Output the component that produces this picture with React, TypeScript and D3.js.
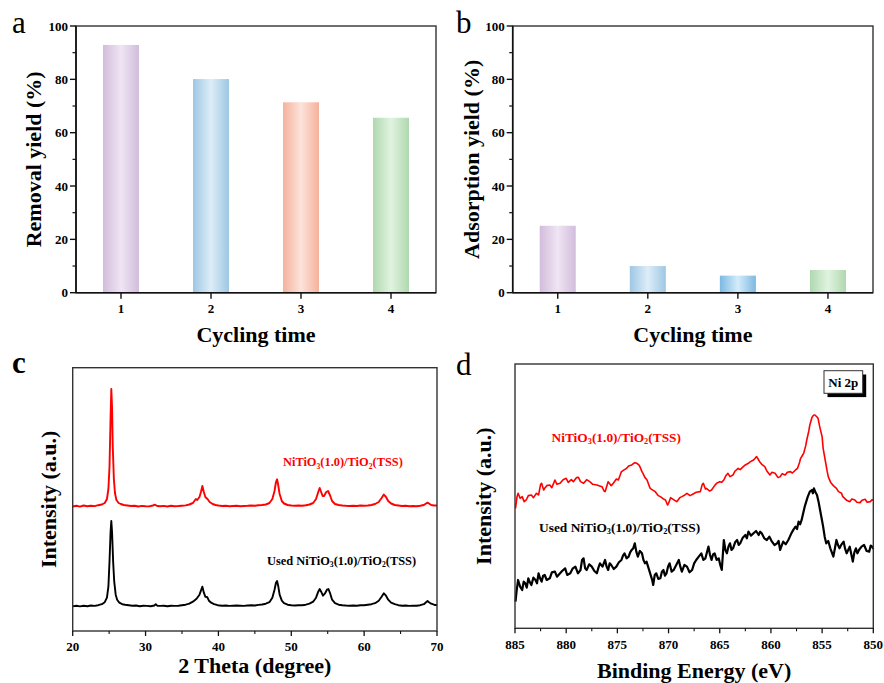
import React from 'react';
import * as d3 from 'd3';

// ---------- DATA ----------
const cycles = [1, 2, 3, 4];
const removalYield = [92.9, 80.1, 71.4, 65.6];
const adsorptionYield = [25.1, 10.0, 6.4, 8.5];
const yieldTicks = [0, 20, 40, 60, 80, 100];
const yieldMinorTicks = [10, 30, 50, 70, 90];
const thetaTicks = [20, 30, 40, 50, 60, 70];
const thetaMinorTicks = [25, 35, 45, 55, 65];
const beTicks = [885, 880, 875, 870, 865, 860, 855, 850];
const beMinorTicks = [882.5, 877.5, 872.5, 867.5, 862.5, 857.5, 852.5];

// XRD (2θ, intensity a.u. above each pattern's baseline)
const xrdFresh: [number, number][] = [
  [20, 0.5], [20.5, 1.2], [21, 0.4], [21.5, 1.5], [22, 0.8], [22.5, 1.3], [23, 0.9], [23.5, 1.8], [24, 2.5], [24.4, 4],
  [24.7, 8], [24.9, 18], [25.05, 40], [25.2, 90], [25.3, 118], [25.4, 100], [25.5, 60], [25.65, 28], [25.8, 14], [26, 7],
  [26.3, 4], [26.6, 3], [27, 2], [27.5, 1.5], [28, 1], [28.5, 1.3], [29, 0.5], [29.5, 1.1], [30, 0.8], [30.5, 0.6],
  [31, 1.5], [31.3, 2.3], [31.6, 1], [32, 0.8], [32.5, 1.1], [33, 0.5], [33.5, 1.2], [34, 0.8], [34.5, 1], [35, 1.3],
  [35.5, 1.6], [36, 2.5], [36.5, 4], [36.9, 8], [37.1, 7], [37.4, 10], [37.6, 15], [37.8, 21], [38, 15], [38.2, 10],
  [38.5, 8], [38.8, 5], [39.2, 3], [39.6, 2], [40, 1.5], [40.5, 1], [41, 1.2], [41.5, 0.8], [42, 1], [42.5, 1.2],
  [43, 0.8], [43.5, 1], [44, 1.2], [44.5, 1.5], [45, 1.2], [45.5, 1.8], [46, 2], [46.5, 2.5], [47, 4], [47.4, 8],
  [47.7, 16], [47.9, 25], [48.05, 27.7], [48.2, 22], [48.4, 13], [48.7, 6], [49, 3.5], [49.5, 2], [50, 1.5], [50.5, 1.2],
  [51, 1.5], [51.5, 1.2], [52, 1.8], [52.5, 2.5], [53, 4], [53.4, 8], [53.7, 15], [53.9, 19], [54.1, 15], [54.3, 11],
  [54.5, 11], [54.8, 15], [55.05, 16], [55.3, 12], [55.6, 6], [56, 3], [56.5, 2], [57, 1.5], [57.5, 1.2], [58, 1],
  [58.5, 1.2], [59, 1], [59.5, 1.5], [60, 1.2], [60.5, 1.5], [61, 2], [61.5, 3], [62, 5], [62.4, 9], [62.7, 12.4],
  [63, 10], [63.3, 6], [63.7, 3.5], [64.2, 2], [64.7, 1.5], [65.2, 1], [65.7, 1.2], [66.2, 0.8], [66.7, 1], [67.2, 0.8],
  [67.7, 1.2], [68.2, 2], [68.5, 3.5], [68.7, 4.4], [68.9, 3.5], [69.2, 2], [69.6, 1.5], [70, 1.5],
];
const xrdUsed: [number, number][] = [
  [20, 0.3], [20.5, 1], [21, 0.3], [21.5, 1], [22, 0.5], [22.5, 1.2], [23, 0.8], [23.5, 1.5], [24, 2.5], [24.4, 4.5],
  [24.7, 9], [24.9, 20], [25.05, 45], [25.2, 75], [25.3, 85.7], [25.4, 75], [25.55, 45], [25.7, 25], [25.9, 12], [26.1, 7],
  [26.4, 4], [26.8, 2.5], [27.2, 2], [27.7, 1.5], [28.2, 1], [28.7, 1.2], [29.2, 0.5], [29.7, 1], [30.2, 0.8], [30.7, 0.5],
  [31.2, 1.2], [31.4, 2.5], [31.6, 1], [32, 0.8], [32.5, 1], [33, 0.5], [33.5, 1], [34, 0.8], [34.5, 1], [35, 1.5],
  [35.5, 2], [36, 3], [36.5, 5], [37, 8], [37.4, 12], [37.6, 16], [37.8, 20], [38, 14], [38.2, 10], [38.45, 9.7],
  [38.7, 6], [39, 4], [39.4, 2.5], [39.9, 1.5], [40.5, 1], [41, 1.2], [41.5, 0.8], [42, 1], [42.5, 1.2], [43, 1],
  [43.5, 0.8], [44, 1.2], [44.5, 1.5], [45, 1.2], [45.5, 1.8], [46, 2.2], [46.5, 3], [47, 4.5], [47.4, 9], [47.7, 17],
  [47.9, 24], [48.05, 25.7], [48.2, 21], [48.4, 12], [48.7, 6], [49, 3.5], [49.5, 2], [50, 1.5], [50.5, 1.2], [51, 1.5],
  [51.5, 1.5], [52, 2], [52.5, 3], [53, 5], [53.4, 9], [53.7, 15], [53.9, 17.7], [54.1, 15], [54.35, 11], [54.6, 13],
  [54.9, 17], [55.1, 17.7], [55.35, 13], [55.6, 7], [56, 3.5], [56.5, 2], [57, 1.5], [57.5, 1.2], [58, 1], [58.5, 1.2],
  [59, 1], [59.5, 1.5], [60, 1.5], [60.5, 2], [61, 2.5], [61.5, 3.5], [62, 6], [62.4, 10], [62.7, 13.4], [63, 11],
  [63.3, 7], [63.7, 4], [64.2, 2.5], [64.7, 1.5], [65.2, 1], [65.7, 1.2], [66.2, 0.8], [66.7, 1], [67.2, 1], [67.7, 1.5],
  [68.2, 2.5], [68.5, 4.5], [68.7, 5.7], [68.9, 4.5], [69.2, 3], [69.6, 2], [70, 1.5],
];
const xrdFreshOffset = 124;
const xrdUsedOffset = 24.3;

// XPS Ni 2p (binding energy eV, intensity a.u.)
const xpsFresh: [number, number][] = [
  [884.95, 360], [884.8, 395], [884.7, 405], [884.5, 390], [884.3, 395], [884.1, 380], [883.9, 385], [883.7, 398], [883.4, 400], [883.2, 392],
  [882.9, 405], [882.7, 400], [882.5, 432], [882.4, 435], [882.2, 415], [882.1, 420], [881.9, 428], [881.6, 430], [881.4, 422], [881.1, 445],
  [880.9, 432], [880.6, 435], [880.3, 446], [880.0, 450], [879.8, 438], [879.5, 446], [879.3, 440], [879.0, 452], [878.8, 453], [878.6, 440],
  [878.3, 435], [878.0, 446], [877.7, 440], [877.4, 432], [877.0, 430], [876.8, 428], [876.5, 425], [876.3, 412], [876.2, 410], [876.0, 430],
  [875.9, 440], [875.6, 428], [875.4, 435], [875.1, 448], [874.9, 445], [874.7, 462], [874.6, 470], [874.3, 476], [874.1, 480], [873.9, 487],
  [873.6, 490], [873.3, 497], [873.1, 495], [872.9, 490], [872.8, 485], [872.6, 470], [872.5, 465], [872.3, 452], [872.1, 445], [871.9, 428],
  [871.8, 420], [871.5, 414], [871.3, 410], [871.0, 398], [870.8, 395], [870.5, 388], [870.3, 385], [870.1, 370], [870.0, 375], [869.8, 392],
  [869.7, 390], [869.4, 384], [869.2, 380], [868.9, 392], [868.7, 395], [868.4, 400], [868.2, 405], [867.9, 398], [867.6, 403], [867.3, 408],
  [866.9, 410], [866.7, 432], [866.6, 435], [866.4, 418], [866.3, 420], [866.0, 412], [865.8, 415], [865.5, 428], [865.3, 435], [865.0, 440],
  [864.8, 438], [864.6, 445], [864.4, 458], [864.2, 465], [864.0, 455], [863.7, 460], [863.5, 472], [863.2, 480], [863.0, 476], [862.7, 485],
  [862.5, 490], [862.2, 495], [862.0, 500], [861.7, 505], [861.5, 512], [861.4, 515], [861.2, 505], [861.1, 500], [860.9, 492], [860.6, 485],
  [860.4, 472], [860.1, 460], [859.9, 468], [859.6, 465], [859.3, 452], [859.1, 455], [858.9, 464], [858.6, 460], [858.4, 468], [858.1, 470],
  [857.9, 466], [857.6, 475], [857.4, 480], [857.2, 498], [857.1, 510], [856.9, 520], [856.8, 525], [856.6, 548], [856.5, 565], [856.3, 592],
  [856.2, 610], [856.0, 632], [855.9, 637], [855.8, 640], [855.7, 640], [855.5, 634], [855.4, 630], [855.2, 600], [855.0, 575], [854.9, 540],
  [854.7, 505], [854.5, 470], [854.4, 455], [854.2, 440], [854.1, 435], [853.9, 428], [853.6, 420], [853.4, 410], [853.1, 405], [853.0, 396],
  [852.8, 390], [852.6, 384], [852.3, 380], [852.1, 388], [851.8, 385], [851.6, 378], [851.3, 377], [851.1, 384], [850.8, 387], [850.6, 378],
  [850.3, 380], [850.1, 386], [850.0, 385],
];
const xpsUsed: [number, number][] = [
  [884.95, 80], [884.85, 110], [884.7, 145], [884.5, 125], [884.3, 115], [884.15, 140], [884.0, 135], [883.85, 122], [883.7, 150], [883.55, 138],
  [883.4, 130], [883.2, 152], [883.0, 145], [882.85, 135], [882.7, 165], [882.55, 150], [882.4, 140], [882.25, 158], [882.1, 160], [881.9, 145],
  [881.6, 150], [881.4, 168], [881.1, 170], [880.9, 155], [880.6, 165], [880.4, 172], [880.1, 180], [879.9, 160], [879.6, 165], [879.35, 180],
  [879.1, 185], [878.85, 165], [878.6, 175], [878.45, 205], [878.3, 210], [878.15, 180], [878.0, 175], [877.75, 192], [877.5, 185], [877.25, 172],
  [877.0, 165], [876.85, 182], [876.7, 195], [876.45, 185], [876.2, 205], [876.05, 185], [875.9, 175], [875.75, 195], [875.6, 190], [875.35, 178],
  [875.1, 185], [874.85, 198], [874.6, 205], [874.45, 218], [874.3, 225], [874.1, 210], [873.9, 215], [873.75, 228], [873.6, 235], [873.45, 240],
  [873.3, 255], [873.15, 230], [873.0, 215], [872.8, 232], [872.6, 225], [872.45, 205], [872.3, 195], [872.15, 200], [872.0, 185], [871.85, 170],
  [871.7, 155], [871.6, 145], [871.5, 130], [871.35, 160], [871.2, 165], [871.0, 148], [870.8, 150], [870.65, 170], [870.5, 175], [870.35, 158],
  [870.2, 165], [870.05, 185], [869.9, 195], [869.7, 170], [869.5, 175], [869.25, 190], [869.0, 205], [868.85, 185], [868.7, 170], [868.45, 190],
  [868.2, 185], [867.95, 168], [867.7, 175], [867.5, 195], [867.3, 205], [867.05, 215], [866.8, 225], [866.6, 205], [866.4, 210], [866.25, 228],
  [866.1, 245], [865.95, 220], [865.8, 205], [865.65, 222], [865.5, 225], [865.3, 205], [865.1, 210], [864.95, 190], [864.8, 175], [864.7, 220],
  [864.6, 265], [864.45, 235], [864.3, 225], [864.15, 245], [864.0, 255], [863.85, 235], [863.7, 240], [863.5, 258], [863.3, 265], [863.15, 250],
  [863.0, 255], [862.75, 272], [862.5, 280], [862.35, 270], [862.2, 290], [861.95, 278], [861.7, 285], [861.45, 292], [861.2, 280], [861.05, 290],
  [860.9, 285], [860.65, 270], [860.4, 265], [860.15, 275], [859.9, 260], [859.65, 250], [859.4, 255], [859.25, 262], [859.1, 235], [858.95, 248],
  [858.8, 260], [858.55, 252], [858.3, 265], [858.15, 275], [858.0, 285], [857.8, 296], [857.6, 305], [857.45, 298], [857.3, 320], [857.15, 312],
  [857.0, 325], [856.85, 345], [856.7, 365], [856.55, 380], [856.4, 395], [856.2, 410], [856.0, 415], [855.9, 405], [855.8, 420], [855.65, 408],
  [855.5, 400], [855.35, 380], [855.2, 355], [855.05, 330], [854.9, 305], [854.75, 275], [854.6, 255], [854.4, 262], [854.2, 240], [854.05, 228],
  [853.9, 215], [853.75, 240], [853.6, 265], [853.45, 250], [853.3, 240], [853.1, 252], [852.9, 260], [852.75, 238], [852.6, 225], [852.45, 235],
  [852.3, 245], [852.15, 222], [852.0, 200], [851.85, 228], [851.7, 240], [851.55, 225], [851.4, 235], [851.15, 245], [850.9, 250], [850.65, 232],
  [850.4, 230], [850.25, 248], [850.1, 245], [850.0, 238],
];

// ---------- STYLE ----------
const FONT = 'Liberation Serif, Times New Roman, Times, DejaVu Serif, serif';
const FRAME = '#333';
const barColorsA = [
  ['#d2bcdc', '#efe5f3'],
  ['#9ec7e3', '#ddedf8'],
  ['#f5b29c', '#fce3da'],
  ['#afd8af', '#e1f3e0'],
];
const barColorsB = [
  ['#d2bcdc', '#efe5f3'],
  ['#9ec7e3', '#ddedf8'],
  ['#7db9e1', '#d3ecfb'],
  ['#afd8af', '#e1f3e0'],
];

type Box = { l: number; t: number; r: number; b: number };

const B = { fontFamily: FONT, fontWeight: 700 } as React.CSSProperties;
const N = { fontFamily: FONT, fontWeight: 400 } as React.CSSProperties;

function Chem({ x, y, size, fill, prefix = '' }: { x: number; y: number; size: number; fill: string; prefix?: string }) {
  const sub = size * 0.62;
  const d = size * 0.22;
  return (
    <text x={x} y={y} style={{ ...B, fontSize: size }} fill={fill}>
      {prefix}NiTiO
      <tspan fontSize={sub} dy={d}>3</tspan>
      <tspan dy={-d}>(1.0)/TiO</tspan>
      <tspan fontSize={sub} dy={d}>2</tspan>
      <tspan dy={-d}>(TSS)</tspan>
    </text>
  );
}

function BarPanel({ box, values, colors, ytitle, letter, letterX, ytitleX, id }: {
  box: Box; values: number[]; colors: string[][]; ytitle: string; letter: string; letterX: number; ytitleX: number; id: string;
}) {
  const x = d3.scaleLinear().domain([0.5, 4.5]).range([box.l, box.r]);
  const y = d3.scaleLinear().domain([0, 100]).range([box.b, box.t]);
  const bw = x(0.9) - x(0.5);
  const cy = (box.t + box.b) / 2;
  return (
    <g>
      <defs>
        {colors.map((c, i) => (
          <linearGradient key={i} id={`${id}g${i}`} x1="0" x2="1" y1="0" y2="0">
            <stop offset="0" stopColor={c[0]} />
            <stop offset="0.5" stopColor={c[1]} />
            <stop offset="1" stopColor={c[0]} />
          </linearGradient>
        ))}
      </defs>
      {values.map((v, i) => (
        <rect key={i} x={x(cycles[i]) - bw / 2} y={y(v)} width={bw} height={y(0) - y(v)} fill={`url(#${id}g${i})`} />
      ))}
      <rect x={box.l} y={box.t} width={box.r - box.l} height={box.b - box.t} fill="none" stroke={FRAME} strokeWidth={1.4} />
      <line x1={box.l} x2={box.l} y1={box.t} y2={box.b} stroke="#111" strokeWidth={1.6} />
      <line x1={box.l} x2={box.r} y1={box.b} y2={box.b} stroke="#111" strokeWidth={1.6} />
      {yieldTicks.map((t) => (
        <g key={t}>
          <line x1={box.l - 6} x2={box.l} y1={y(t)} y2={y(t)} stroke="#111" strokeWidth={1.4} />
          <text x={box.l - 8} y={y(t) + 4.5} textAnchor="end" style={{ ...B, fontSize: 13 }}>{t}</text>
        </g>
      ))}
      {yieldMinorTicks.map((t) => (
        <line key={t} x1={box.l - 3.5} x2={box.l} y1={y(t)} y2={y(t)} stroke="#111" strokeWidth={1.2} />
      ))}
      {cycles.map((c) => (
        <g key={c}>
          <line x1={x(c)} x2={x(c)} y1={box.b} y2={box.b + 6} stroke="#111" strokeWidth={1.4} />
          <text x={x(c)} y={box.b + 20} textAnchor="middle" style={{ ...B, fontSize: 13 }}>{c}</text>
        </g>
      ))}
      <text x={(box.l + box.r) / 2} y={341.5} textAnchor="middle" style={{ ...B, fontSize: 22 }}>Cycling time</text>
      <text transform={`translate(${ytitleX},${cy}) rotate(-90)`} textAnchor="middle" style={{ ...B, fontSize: 22 }}>{ytitle}</text>
      <text x={letterX} y={33} style={{ ...N, fontSize: 31 }}>{letter}</text>
    </g>
  );
}

function XrdPanel() {
  const box: Box = { l: 72.7, t: 367.7, r: 437, b: 631 };
  const x = d3.scaleLinear().domain([20, 70]).range([box.l, box.r]);
  const y = d3.scaleLinear().domain([0, 263.3]).range([box.b, box.t]);
  const lineFresh = d3.line<[number, number]>().x((d) => x(d[0])).y((d) => y(d[1] + xrdFreshOffset));
  const lineUsed = d3.line<[number, number]>().x((d) => x(d[0])).y((d) => y(d[1] + xrdUsedOffset));
  return (
    <g>
      <path d={lineFresh(xrdFresh) || ''} fill="none" stroke="#ff0000" strokeWidth={1.9} strokeLinejoin="round" />
      <path d={lineUsed(xrdUsed) || ''} fill="none" stroke="#000" strokeWidth={1.9} strokeLinejoin="round" />
      <rect x={box.l} y={box.t} width={box.r - box.l} height={box.b - box.t} fill="none" stroke={FRAME} strokeWidth={1.4} />
      {thetaTicks.map((t) => (
        <g key={t}>
          <line x1={x(t)} x2={x(t)} y1={box.b} y2={box.b + 5} stroke="#111" strokeWidth={1.3} />
          <text x={x(t)} y={651} textAnchor="middle" style={{ ...B, fontSize: 13 }}>{t}</text>
        </g>
      ))}
      {thetaMinorTicks.map((t) => (
        <line key={t} x1={x(t)} x2={x(t)} y1={box.b} y2={box.b + 3} stroke="#111" strokeWidth={1.1} />
      ))}
      <text x={(box.l + box.r) / 2} y={673} textAnchor="middle" style={{ ...B, fontSize: 22 }}>2 Theta (degree)</text>
      <text transform={`translate(${56},${(box.t + box.b) / 2}) rotate(-90)`} textAnchor="middle" style={{ ...B, fontSize: 22 }}>Intensity (a.u.)</text>
      <Chem x={283} y={466} size={12.4} fill="#ff0000" />
      <Chem x={267} y={564.5} size={12.4} fill="#000" prefix="Used " />
      <text x={12} y={373} style={{ ...B, fontSize: 31 }}>c</text>
    </g>
  );
}

function XpsPanel() {
  const box: Box = { l: 515, t: 364, r: 873.3, b: 628.3 };
  const x = d3.scaleLinear().domain([885, 850]).range([box.l, box.r]);
  const y = d3.scaleLinear().domain([0, 793]).range([box.b, box.t]);
  const line = d3.line<[number, number]>().x((d) => x(d[0])).y((d) => y(d[1]));
  return (
    <g>
      <path d={line(xpsFresh) || ''} fill="none" stroke="#ff0000" strokeWidth={1.6} strokeLinejoin="round" />
      <path d={line(xpsUsed) || ''} fill="none" stroke="#000" strokeWidth={2.2} strokeLinejoin="round" />
      <rect x={box.l} y={box.t} width={box.r - box.l} height={box.b - box.t} fill="none" stroke={FRAME} strokeWidth={1.4} />
      {beTicks.map((t) => (
        <g key={t}>
          <line x1={x(t)} x2={x(t)} y1={box.b} y2={box.b + 5} stroke="#111" strokeWidth={1.3} />
          <text x={x(t)} y={648.5} textAnchor="middle" style={{ ...B, fontSize: 13 }}>{t}</text>
        </g>
      ))}
      {beMinorTicks.map((t) => (
        <line key={t} x1={x(t)} x2={x(t)} y1={box.b} y2={box.b + 3} stroke="#111" strokeWidth={1.1} />
      ))}
      <text x={(box.l + box.r) / 2} y={678} textAnchor="middle" style={{ ...B, fontSize: 22 }}>Binding Energy (eV)</text>
      <text transform={`translate(${491},${(box.t + box.b) / 2}) rotate(-90)`} textAnchor="middle" style={{ ...B, fontSize: 22 }}>Intensity (a.u.)</text>
      <Chem x={551.5} y={441.5} size={13.4} fill="#ff0000" />
      <Chem x={539} y={531.5} size={13.4} fill="#000" prefix="Used " />
      <rect x={827.5} y={374.5} width={38.7} height={22.6} fill="#000" />
      <rect x={824} y={370.7} width={38.7} height={22.6} fill="#fff" stroke="#333" strokeWidth={1} />
      <text x={843.3} y={386.5} textAnchor="middle" style={{ ...B, fontSize: 13 }}>Ni 2p</text>
      <text x={456} y={375} style={{ ...N, fontSize: 31 }}>d</text>
    </g>
  );
}

export default function App() {
  return (
    <svg width={884} height={683} style={{ position: 'absolute', left: 0, top: 0, background: '#fff' }}>
      <rect x={0} y={0} width={884} height={683} fill="#fff" />
      <BarPanel box={{ l: 76, t: 26, r: 436, b: 292.7 }} values={removalYield} colors={barColorsA}
        ytitle="Removal yield (%)" letter="a" letterX={12} ytitleX={41} id="a" />
      <BarPanel box={{ l: 512.7, t: 26, r: 873, b: 292.7 }} values={adsorptionYield} colors={barColorsB}
        ytitle="Adsorption yield (%)" letter="b" letterX={456} ytitleX={479} id="b" />
      <XrdPanel />
      <XpsPanel />
    </svg>
  );
}
